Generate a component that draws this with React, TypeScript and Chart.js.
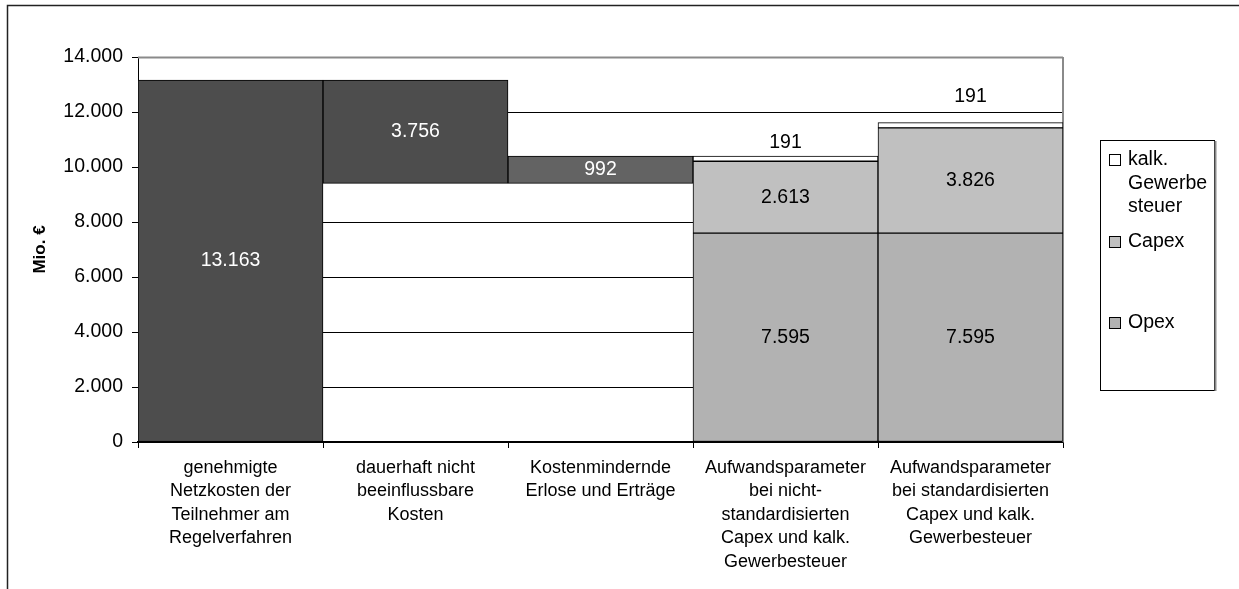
import React, { useEffect, useRef } from "react";
import { Chart, registerables } from "chart.js";

Chart.register(...registerables);

// ---------- data ----------
const categories: string[][] = [
  ["genehmigte", "Netzkosten der", "Teilnehmer am", "Regelverfahren"],
  ["dauerhaft nicht", "beeinflussbare", "Kosten"],
  ["Kostenmindernde", "Erlose und Erträge"],
  ["Aufwandsparameter", "bei nicht-", "standardisierten", "Capex und kalk.", "Gewerbesteuer"],
  ["Aufwandsparameter", "bei standardisierten", "Capex und kalk.", "Gewerbesteuer"],
];

const genehmigteNetzkosten = [13163];
const nichtBeeinflussbar = [3756];
const kostenmindernd = [992];
const opexValues = [7595, 7595];
const capexValues = [2613, 3826];
const gewerbesteuerValues = [191, 191];
const yTickValues = [0, 2000, 4000, 6000, 8000, 10000, 12000, 14000];
const legendLabels: string[][] = [["kalk.", "Gewerbe", "steuer"], ["Capex"], ["Opex"]];
const yAxisTitle = "Mio. €";

// ---------- styles ----------
const FONT = "'Liberation Sans', Arial, sans-serif";
const FS_CAT = 18;
const FS = 19.5;
const gewLabelLift = [13, 26];

const fmt = (n: number) => String(Math.round(n)).replace(/\B(?=(\d{3})+(?!\d))/g, ".");

// derived floating ranges
const total = genehmigteNetzkosten[0];
const level1 = total - nichtBeeinflussbar[0];
const level2 = level1 + kostenmindernd[0];
const costData: any[] = [[0, total], [level1, total], [level1, level2], null, null];
const opexData: any[] = [null, null, null, ...opexValues.map((v) => [0, v])];
const capexData: any[] = [null, null, null, ...capexValues.map((v, i) => [opexValues[i], opexValues[i] + v])];
const gewData: any[] = [
  null,
  null,
  null,
  ...gewerbesteuerValues.map((v, i) => {
    const b = opexValues[i] + capexValues[i];
    return [b, b + v];
  }),
];

const framePlugin = {
  id: "frame",
  beforeDraw(chart: any) {
    const ctx = chart.ctx;
    ctx.save();
    ctx.fillStyle = "#fff";
    ctx.fillRect(0, 0, chart.width, chart.height);
    ctx.strokeStyle = "#222";
    ctx.lineWidth = 1.5;
    ctx.beginPath();
    ctx.moveTo(7.5, chart.height + 5);
    ctx.lineTo(7.5, 5.5);
    ctx.lineTo(chart.width + 5, 5.5);
    ctx.stroke();
    ctx.restore();
  },
  beforeDatasetsDraw(chart: any) {
    const { ctx, chartArea } = chart;
    ctx.save();
    ctx.strokeStyle = "#8a8a8a";
    ctx.lineWidth = 2;
    ctx.beginPath();
    ctx.moveTo(chartArea.left, chartArea.top + 0.5);
    ctx.lineTo(chartArea.right, chartArea.top + 0.5);
    ctx.moveTo(chartArea.right, chartArea.top);
    ctx.lineTo(chartArea.right, chartArea.bottom);
    ctx.stroke();
    ctx.restore();
  },
};

const valueLabelPlugin = {
  id: "valueLabels",
  afterDatasetsDraw(chart: any) {
    const ctx = chart.ctx;
    ctx.save();
    ctx.font = `${FS}px ${FONT}`;
    ctx.textAlign = "center";
    ctx.textBaseline = "middle";
    chart.data.datasets.forEach((ds: any, di: number) => {
      const meta = chart.getDatasetMeta(di);
      let k = 0;
      meta.data.forEach((el: any, i: number) => {
        const raw = ds.data[i];
        if (!raw) return;
        const v = raw[1] - raw[0];
        const { x, y, base } = el.getProps(["x", "y", "base"], true);
        ctx.fillStyle = Array.isArray(ds.labelColor) ? ds.labelColor[i] : ds.labelColor;
        if (ds.labelAbove) {
          ctx.fillText(fmt(v), x, Math.min(y, base) - gewLabelLift[k]);
        } else {
          ctx.fillText(fmt(v), x, (y + base) / 2);
        }
        k++;
      });
    });
    ctx.restore();
  },
};

const legendPlugin = {
  id: "customLegend",
  afterDraw(chart: any) {
    const { ctx, chartArea } = chart;
    const left = chartArea.right + 37;
    const top = 140;
    const w = 114;
    const h = 250;
    ctx.save();
    ctx.fillStyle = "#fff";
    ctx.fillRect(left, top, w, h);
    ctx.strokeStyle = "#000";
    ctx.lineWidth = 1;
    ctx.strokeRect(left + 0.5, top + 0.5, w, h);
    ctx.strokeStyle = "#8a8a8a";
    ctx.lineWidth = 2;
    ctx.beginPath();
    ctx.moveTo(left + w + 1.5, top + 1);
    ctx.lineTo(left + w + 1.5, top + h + 1);
    ctx.stroke();

    const ds = chart.data.datasets;
    const items = [ds[3], ds[2], ds[1]];
    const itemTops = [160, 242, 323];
    ctx.font = `${FS}px ${FONT}`;
    ctx.textAlign = "left";
    ctx.textBaseline = "middle";
    items.forEach((d: any, i: number) => {
      const cy = itemTops[i];
      ctx.fillStyle = d.backgroundColor;
      ctx.fillRect(left + 9.5, cy - 5.5, 11, 11);
      ctx.strokeStyle = "#000";
      ctx.lineWidth = 1;
      ctx.strokeRect(left + 9.5, cy - 5.5, 11, 11);
      ctx.fillStyle = "#000";
      legendLabels[i].forEach((line, j) => {
        ctx.fillText(line, left + 28, cy + j * 23.5);
      });
    });
    ctx.restore();
  },
};

export default function App() {
  const ref = useRef<HTMLCanvasElement | null>(null);
  useEffect(() => {
    document.body.style.margin = "0";
    if (!ref.current) return;
    const chart = new Chart(ref.current, {
      type: "bar",
      data: {
        labels: categories as any,
        datasets: [
          {
            label: "Kosten",
            data: costData,
            backgroundColor: ["#4d4d4d", "#4d4d4d", "#636363", "#4d4d4d", "#4d4d4d"],
            labelColor: "#fff",
          } as any,
          {
            label: "Opex",
            data: opexData,
            backgroundColor: "#b2b2b2",
            labelColor: "#000",
          } as any,
          {
            label: "Capex",
            data: capexData,
            backgroundColor: "#c0c0c0",
            labelColor: "#000",
          } as any,
          {
            label: "kalk. Gewerbesteuer",
            data: gewData,
            backgroundColor: "#ffffff",
            labelColor: "#000",
            labelAbove: true,
          } as any,
        ],
      },
      options: {
        responsive: false,
        animation: false,
        devicePixelRatio: 1,
        layout: { padding: { top: 57, right: 176, left: 0, bottom: 0 } },
        plugins: {
          legend: { display: false },
          tooltip: { enabled: false },
        },
        datasets: {
          bar: {
            categoryPercentage: 1,
            barPercentage: 1,
            grouped: false,
            borderWidth: 1,
            borderColor: "#000",
            borderSkipped: false,
          } as any,
        },
        scales: {
          x: {
            grid: {
              display: true,
              drawOnChartArea: false,
              drawTicks: true,
              tickLength: 6,
              color: "#000",
              offset: true,
            },
            border: { display: true, color: "#000", width: 1.5 },
            ticks: {
              color: "#000",
              font: { family: FONT, size: FS_CAT, lineHeight: 1.31 },
              padding: 8,
              maxRotation: 0,
              autoSkip: false,
            },
            afterFit: (s: any) => {
              s.height = 147;
            },
          },
          y: {
            min: 0,
            max: 14000,
            afterBuildTicks: (s: any) => {
              s.ticks = yTickValues.map((v) => ({ value: v }));
            },
            grid: {
              color: (c: any) => (c.tick && c.tick.value === 14000 ? "#8a8a8a" : "#000"),
              tickColor: "#000",
              tickLength: 6,
              lineWidth: 1,
            },
            border: { color: "#000", width: 1 },
            ticks: {
              color: "#000",
              font: { family: FONT, size: FS },
              padding: 9,
              callback: (v: any) => fmt(Number(v)),
            },
            title: {
              display: true,
              text: yAxisTitle,
              color: "#000",
              font: { family: FONT, size: 17, weight: "bold" },
              padding: { top: 30, bottom: 0 },
            },
            afterFit: (s: any) => {
              s.width = 138;
            },
          },
        },
      },
      plugins: [framePlugin, valueLabelPlugin, legendPlugin],
    });
    return () => chart.destroy();
  }, []);
  return (
    <div style={{ width: 1239, height: 589 }}>
      <canvas ref={ref} width={1239} height={589} style={{ display: "block", width: 1239, height: 589 }} />
    </div>
  );
}
